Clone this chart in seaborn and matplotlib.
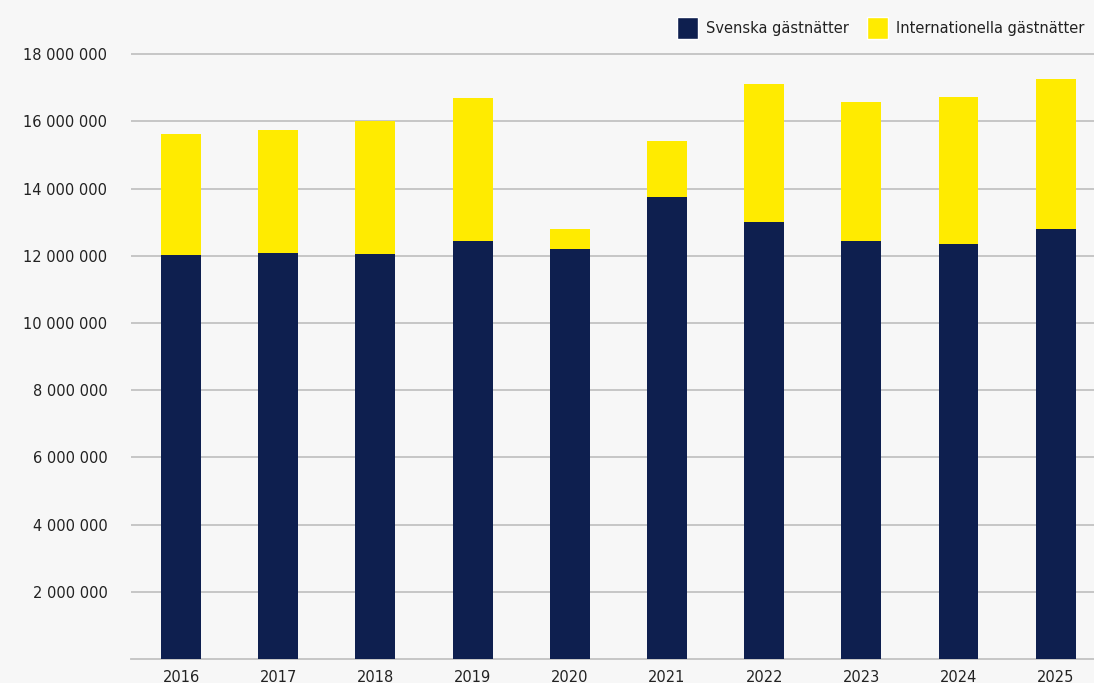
import matplotlib
matplotlib.use("Agg")
import matplotlib.pyplot as plt
from matplotlib.patches import Patch
from matplotlib.ticker import FuncFormatter
import seaborn as sns
import pandas as pd

years = ["2016", "2017", "2018", "2019", "2020", "2021", "2022", "2023", "2024", "2025"]
svenska = [12010000, 12080000, 12050000, 12440000, 12200000, 13760000, 13010000, 12440000, 12360000, 12800000]
internationella = [3620000, 3660000, 3960000, 4260000, 600000, 1660000, 4100000, 4140000, 4370000, 4460000]
yticks = [2000000, 4000000, 6000000, 8000000, 10000000, 12000000, 14000000, 16000000, 18000000]

NAVY = "#0E1F4F"
YELLOW = "#FFEB00"
BG = "#F7F7F7"
GRID = "#C2C2C2"

sns.set_theme(style="white")
plt.rcParams["font.family"] = ["DejaVu Sans"]

df = pd.DataFrame({
    "year": years,
    "svenska": svenska,
    "total": [s + i for s, i in zip(svenska, internationella)],
})

fig = plt.figure(figsize=(10.94, 6.83), dpi=100, facecolor=BG)
ax = fig.add_axes([131 / 1094, 24 / 683, 983 / 1094, 621.6 / 683])
ax.set_facecolor(BG)

# stacked bars: full total in yellow, Swedish share drawn over it in navy
sns.barplot(data=df, x="year", y="total", color=YELLOW, width=0.41,
            saturation=1, linewidth=0, ax=ax, zorder=3)
sns.barplot(data=df, x="year", y="svenska", color=NAVY, width=0.41,
            saturation=1, linewidth=0, ax=ax, zorder=4)

ax.set_ylim(0, 18500000)
ax.set_xlim(-0.515, 9.6)
ax.set_yticks(yticks)
ax.yaxis.set_major_formatter(FuncFormatter(lambda v, p: f"{int(v):,}".replace(",", " ")))
ax.yaxis.grid(True, color=GRID, linewidth=1.3, zorder=0)
ax.set_axisbelow(True)
ax.set_xlabel("")
ax.set_ylabel("")
for side in ["left", "right", "top"]:
    ax.spines[side].set_visible(False)
ax.spines["bottom"].set_color(GRID)
ax.spines["bottom"].set_linewidth(1.3)
ax.tick_params(axis="y", length=0, pad=17, labelsize=10.5, labelcolor="#222222")
ax.tick_params(axis="x", length=0, pad=8, labelsize=10.5, labelcolor="#222222")

handles = [Patch(facecolor=NAVY, label="Svenska gästnätter"),
           Patch(facecolor=YELLOW, label="Internationella gästnätter")]
fig.legend(handles=handles, loc="center left", bbox_to_anchor=(664 / 1094, 1 - 28 / 683),
           ncol=2, frameon=False, fontsize=10.5, handlelength=1.4, handleheight=1.9,
           handletextpad=0.55, columnspacing=1.3, labelcolor="#222222")

fig.savefig("out.png", dpi=100, facecolor=BG)
